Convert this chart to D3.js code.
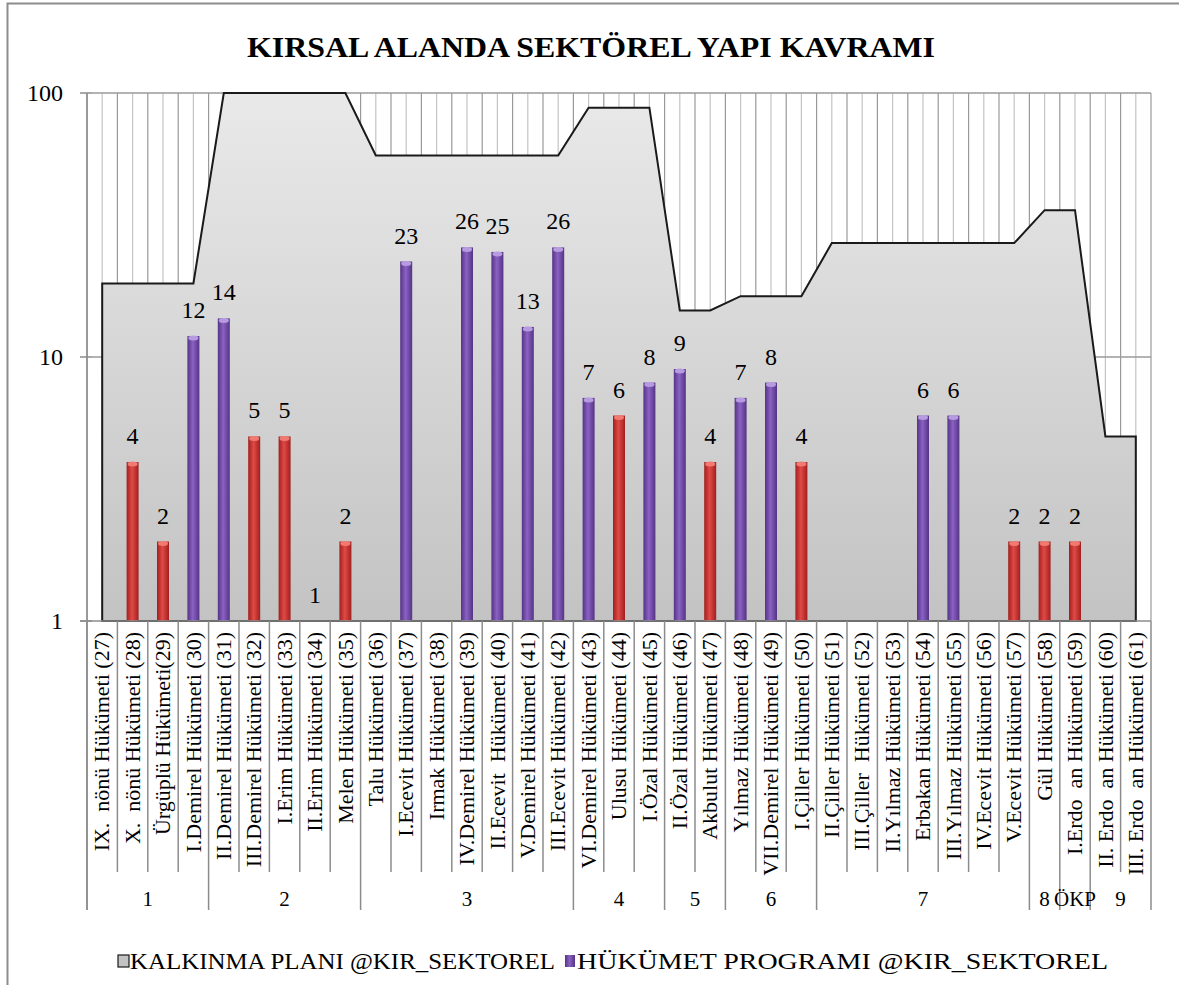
<!DOCTYPE html>
<html>
<head>
<meta charset="utf-8">
<script src="https://cdn.jsdelivr.net/npm/d3@7"></script>
<style>
    body { margin: 0; background: #fff; }
    svg text { white-space: pre; }
</style>
</head>
<body>
<div id="chart"></div>
<script>
(function () {
    "use strict";

    const categories = [
        "IX.  nönü Hükümeti (27)", "X.  nönü Hükümeti (28)", "Ürgüplü Hükümeti(29)",
        "I.Demirel Hükümeti (30)", "II.Demirel Hükümeti (31)", "III.Demirel Hükümeti (32)",
        "I.Erim Hükümeti (33)", "II.Erim Hükümeti (34)", "Melen Hükümeti (35)",
        "Talu Hükümeti (36)", "I.Ecevit Hükümeti (37)", "Irmak Hükümeti (38)",
        "IV.Demirel Hükümeti (39)", "II.Ecevit  Hükümeti (40)", "V.Demirel Hükümeti (41)",
        "III.Ecevit Hükümeti (42)", "VI.Demirel Hükümeti (43)", "Ulusu Hükümeti (44)",
        "I.Özal Hükümeti (45)", "II.Özal Hükümeti (46)", "Akbulut Hükümeti (47)",
        "Yılmaz Hükümeti (48)", "VII.Demirel Hükümeti (49)", "I.Çiller Hükümeti (50)",
        "II.Çiller Hükümeti (51)", "III.Çiller  Hükümeti (52)", "II.Yılmaz Hükümeti (53)",
        "Erbakan Hükümeti (54)", "III.Yılmaz Hükümeti (55)", "IV.Ecevit Hükümeti (56)",
        "V.Ecevit Hükümeti (57)", "Gül Hükümeti (58)", "I.Erdo  an Hükümeti (59)",
        "II. Erdo  an Hükümeti (60)", "III. Erdo  an Hükümeti (61)"
    ];

    // KALKINMA PLANI (area)
    const planValues = [
        19, 19, 19, 19, 100, 100, 100, 100, 100, 58, 58, 58, 58, 58, 58, 58,
        88, 88, 88, 15, 15, 17, 17, 17, 27, 27, 27, 27, 27, 27, 27, 36, 36, 5, 5
    ];

    // HÜKÜMET PROGRAMI (bars), null = no label
    const programValues = [
        null, 4, 2, 12, 14, 5, 5, 1, 2, null, 23, null, 26, 25, 13, 26,
        7, 6, 8, 9, 4, 7, 8, 4, null, null, null, 6, 6, null, 2, 2, 2, null, null
    ];

    // government numbers whose bar is drawn red
    const redGovernments = [28, 29, 32, 33, 34, 35, 44, 47, 50, 57, 58, 59];
    const firstGovernment = 27;

    const groupLabels = ["1", "2", "3", "4", "5", "6", "7", "8", "ÖKP", "9"];
    const groupSizes = [4, 5, 7, 3, 2, 3, 7, 1, 1, 2];

    const yTicks = [1, 10, 100];
    const title = "KIRSAL ALANDA SEKTÖREL YAPI KAVRAMI";
    const legendLabels = ["KALKINMA PLANI @KIR_SEKTOREL", "HÜKÜMET PROGRAMI @KIR_SEKTOREL"];

    const width = 1179;
    const height = 985;
    const left = 87, right = 1151, top = 93, bottom = 621;
    const serif = "'Liberation Serif', 'Times New Roman', Times, serif";

    const svg = d3.select("#chart").append("svg")
        .attr("width", width)
        .attr("height", height)
        .attr("font-family", serif);

    const defs = svg.append("defs");

    const areaGrad = defs.append("linearGradient")
        .attr("id", "areaGrad")
        .attr("gradientUnits", "userSpaceOnUse")
        .attr("x1", 0).attr("x2", 0).attr("y1", top).attr("y2", bottom);
    areaGrad.append("stop").attr("offset", 0).attr("stop-color", "#e9e9e9");
    areaGrad.append("stop").attr("offset", 1).attr("stop-color", "#c3c3c3");

    function barGradient(id, edge, mid) {
        const g = defs.append("linearGradient")
            .attr("id", id)
            .attr("x1", 0).attr("x2", 1).attr("y1", 0).attr("y2", 0);
        g.append("stop").attr("offset", 0).attr("stop-color", edge);
        g.append("stop").attr("offset", 0.45).attr("stop-color", mid);
        g.append("stop").attr("offset", 1).attr("stop-color", edge);
    }
    barGradient("redGrad", "#a11f1f", "#e04a45");
    barGradient("purpleGrad", "#553384", "#8a62c4");

    // outer frame
    svg.append("rect")
        .attr("x", 7.5).attr("y", 3.5)
        .attr("width", width + 10).attr("height", height + 10)
        .attr("fill", "none")
        .attr("stroke", "#8c8c8c")
        .attr("stroke-width", 2);

    svg.append("text")
        .attr("x", 591).attr("y", 57)
        .attr("text-anchor", "middle")
        .attr("font-size", 30)
        .attr("font-weight", "bold")
        .attr("textLength", 688)
        .attr("lengthAdjust", "spacingAndGlyphs")
        .text(title);

    const xScale = d3.scaleBand()
        .domain(categories)
        .range([left, right])
        .padding(0);

    const yScale = d3.scaleLog()
        .domain([1, 100])
        .range([bottom, top]);

    const bw = xScale.bandwidth();
    const cx = d => xScale(d) + bw / 2;

    // vertical pattern lines of the plot area
    const hatch = svg.append("g");
    const halfSteps = d3.range(categories.length * 2 + 1);
    hatch.selectAll("line")
        .data(halfSteps)
        .join("line")
        .attr("x1", i => left + i * bw / 2)
        .attr("x2", i => left + i * bw / 2)
        .attr("y1", top)
        .attr("y2", bottom)
        .attr("stroke", i => i % 2 === 0 ? "#9a9a9a" : "#c4c4c4")
        .attr("stroke-width", 1.2);

    // horizontal gridlines
    svg.append("g").selectAll("line")
        .data(yTicks.filter(t => t > 1))
        .join("line")
        .attr("x1", left + 5).attr("x2", right)
        .attr("y1", d => yScale(d)).attr("y2", d => yScale(d))
        .attr("stroke", "#9a9a9a")
        .attr("stroke-width", 1.5);

    // area series
    const area = d3.area()
        .x((d, i) => cx(categories[i]))
        .y0(yScale(1))
        .y1(d => yScale(d));

    svg.append("path")
        .datum(planValues)
        .attr("d", area)
        .attr("fill", "url(#areaGrad)")
        .attr("stroke", "#1a1a1a")
        .attr("stroke-width", 2)
        .attr("stroke-linejoin", "miter");

    // bars
    const barData = programValues.map((v, i) => ({
        cat: categories[i],
        value: v,
        red: redGovernments.includes(firstGovernment + i)
    })).filter(d => d.value !== null);

    const barW = 12;
    const bars = svg.append("g");
    bars.selectAll("rect")
        .data(barData.filter(d => d.value > 1))
        .join("rect")
        .attr("x", d => cx(d.cat) - barW / 2)
        .attr("y", d => yScale(d.value))
        .attr("width", barW)
        .attr("height", d => yScale(1) - yScale(d.value))
        .attr("fill", d => d.red ? "url(#redGrad)" : "url(#purpleGrad)");

    bars.selectAll("ellipse")
        .data(barData.filter(d => d.value > 1))
        .join("ellipse")
        .attr("cx", d => cx(d.cat))
        .attr("cy", d => yScale(d.value) + 2)
        .attr("rx", barW / 2 - 1)
        .attr("ry", 2.5)
        .attr("fill", d => d.red ? "#f07a72" : "#b79be0");

    svg.append("g").selectAll("text")
        .data(barData)
        .join("text")
        .attr("x", d => cx(d.cat))
        .attr("y", d => yScale(d.value) - 18)
        .attr("text-anchor", "middle")
        .attr("font-size", 24)
        .text(d => d.value);

    // axes lines
    const axisColor = "#8c8c8c";
    svg.append("line")
        .attr("x1", left).attr("x2", left)
        .attr("y1", top).attr("y2", 910)
        .attr("stroke", axisColor).attr("stroke-width", 1.5);
    svg.append("line")
        .attr("x1", 80).attr("x2", right)
        .attr("y1", bottom).attr("y2", bottom)
        .attr("stroke", axisColor).attr("stroke-width", 1.5);

    const yAxis = svg.append("g");
    yAxis.selectAll("line")
        .data(yTicks)
        .join("line")
        .attr("x1", 80).attr("x2", 92)
        .attr("y1", d => yScale(d)).attr("y2", d => yScale(d))
        .attr("stroke", axisColor).attr("stroke-width", 1.5);
    yAxis.selectAll("text")
        .data(yTicks)
        .join("text")
        .attr("x", 63)
        .attr("y", d => yScale(d))
        .attr("dy", "0.35em")
        .attr("text-anchor", "end")
        .attr("font-size", 24)
        .text(d => d);

    // category separators and labels
    const groupEnds = d3.cumsum(groupSizes);
    const boundaries = d3.range(categories.length + 1);
    svg.append("g").selectAll("line")
        .data(boundaries)
        .join("line")
        .attr("x1", i => left + i * bw)
        .attr("x2", i => left + i * bw)
        .attr("y1", bottom)
        .attr("y2", i => (i === 0 || groupEnds.includes(i)) ? 910 : 872)
        .attr("stroke", axisColor)
        .attr("stroke-width", 1.5);

    svg.append("g").selectAll("text")
        .data(categories)
        .join("text")
        .attr("transform", d => `translate(${cx(d)},632) rotate(-90)`)
        .attr("dy", "0.33em")
        .attr("text-anchor", "end")
        .attr("font-size", 22)
        .text(d => d);

    const groupStarts = [0, ...groupEnds.slice(0, -1)];
    svg.append("g").selectAll("text")
        .data(groupLabels)
        .join("text")
        .attr("x", (d, i) => left + (groupStarts[i] + groupSizes[i] / 2) * bw)
        .attr("y", 899)
        .attr("dy", "0.35em")
        .attr("text-anchor", "middle")
        .attr("font-size", 21)
        .text(d => d);

    // legend
    const legend = svg.append("g");
    const legendX = [118, 565];
    const legendText = [[130, 425], [577, 531]];
    legend.append("rect")
        .attr("x", legendX[0]).attr("y", 955)
        .attr("width", 11).attr("height", 12)
        .attr("fill", "url(#areaGrad)")
        .attr("stroke", "#1a1a1a").attr("stroke-width", 1.2);
    legend.append("rect")
        .attr("x", legendX[1]).attr("y", 955)
        .attr("width", 10).attr("height", 12)
        .attr("fill", "url(#purpleGrad)");
    legend.selectAll("text")
        .data(legendLabels)
        .join("text")
        .attr("x", (d, i) => legendText[i][0])
        .attr("y", 969)
        .attr("font-size", 23)
        .attr("textLength", (d, i) => legendText[i][1])
        .attr("lengthAdjust", "spacingAndGlyphs")
        .text(d => d);
}());
</script>
</body>
</html>
